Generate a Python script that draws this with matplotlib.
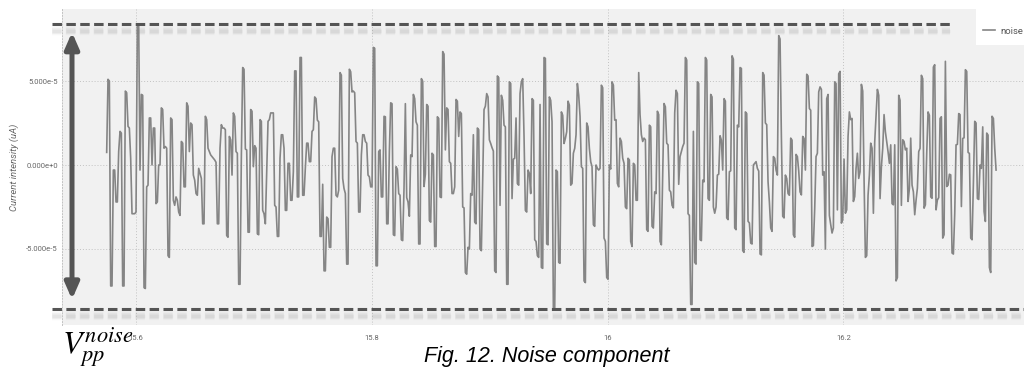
import numpy as np
import matplotlib
matplotlib.use('Agg')
import matplotlib.pyplot as plt
from matplotlib import transforms
from matplotlib.patches import Rectangle

plt.rcParams['font.family'] = ['Roboto', 'DejaVu Sans']
plt.rcParams['mathtext.fontset'] = 'stix'

# noise samples, unit 1e-5 uA, evenly spaced in time
NOISE = [
    0.75, 5.1, 5.0, -7.2, -7.2, -0.3, -0.3, -2.2, -2.2, 0.8,
    2.0, 1.9, -7.2, -7.2, 4.4, 4.3, 2.3, 2.2, 0.4, -2.9,
    -2.9, -2.9, -2.8, 8.4, 8.4, -0.3, 4.2, 4.15, -7.3, -7.35,
    -1.3, -1.2, 2.8, 2.8, 0.0, 2.2, 2.2, -2.3, -2.2, 0.0,
    0.0, 3.4, 3.3, 1.0, 1.1, 1.0, -5.4, -5.5, 2.8, 2.7,
    -2.1, -2.4, -1.9, -2.1, -2.8, -3.0, 1.4, 1.3, -1.3, -1.3,
    3.7, 3.5, 0.8, 2.5, 2.4, -0.6, -0.9, -1.7, -1.8, -0.2,
    -0.5, -0.8, -3.5, -3.5, 2.9, 2.7, 1.0, 0.8, 0.6, 0.5,
    0.4, 0.3, 0.16, -3.5, -3.5, 1.0, 2.4, 2.2, 2.2, 2.1,
    -4.2, -4.3, 1.7, 1.5, -0.6, 3.1, 2.9, 0.8, 0.7, -7.1,
    -7.1, 0.5, 5.8, 5.7, 0.95, 0.9, -4.0, -4.0, 3.3, 3.2,
    -0.1, 1.15, 1.0, -4.1, -4.15, 2.7, 2.6, -2.7, -2.9, -3.5,
    -0.4, 2.6, 2.7, 3.1, 3.1, 3.1, -2.4, -2.5, -4.25, -4.25,
    # 15.8 region
    0.4, 1.8, 1.8, 1.0, -2.7, -2.7, 0.1, 0.1, -2.1, -2.1,
    -0.4, 5.6, 5.6, -1.9, -1.9, 6.4, 6.4, -1.8, -1.8, -0.16,
    1.3, 1.3, 0.2, 0.2, 2.0, 2.1, 4.05, 3.95, 2.67, 2.57,
    -4.25, -4.25, -1.15, -6.3, -6.3, -3.1, -3.2, -4.9, -4.9, 0.5,
    1.0, 1.0, -1.8, -1.9, -1.5, 5.5, 5.35, -0.8, -1.4, -1.7,
    -5.9, -5.9, 5.7, 5.55, 4.35, 4.4, 4.3, 1.4, 1.3, -2.8,
    -2.8, 0.6, 1.8, 1.8, 1.4, 1.3, -0.6, -0.7, -1.3, -1.3,
    7.0, 6.95, -6.0, -6.0, 0.8, 0.9, -1.9, -1.9, 2.9, 2.87,
    -3.5, -3.5, 0.8, 3.7, 3.65, -4.15, -4.2, -0.1, -0.25, -1.7,
    -1.8, -4.45, -4.5, -1.35, 3.65, -1.94, -2.2, -3.05, 0.6, 0.5,
    4.2, 3.95, 2.57, 2.37, -4.7, -4.7, 5.14, 4.98, -1.28, -0.55,
    3.6, 3.5, -3.3, -3.4, 0.7, 0.6, -4.85, -4.85, 2.87, 2.77,
    -1.9, -1.94, 6.75, 6.6, 0.9, 3.4, 3.3, 0.2, 0.1, -1.7,
    -1.7, -1.3, 3.9, 3.8, 1.7,
    # 16.0 region
    3.16, 3.06, -2.5, -2.55, -6.4, -6.5, -4.9, -5.0, -1.7, -1.8,
    1.8, -3.4, -3.5, 2.2, 2.1, -5.0, -5.1, -0.9, 3.3, 3.5,
    4.25, 4.05, 1.5, 1.28, 1.03, 0.83, -6.3, -6.4, 5.3, 5.2,
    -2.4, 4.15, 3.85, 2.37, 2.27, -7.1, -7.1, 4.95, 4.85, -2.0,
    0.35, 0.4, 2.8, -1.1, -1.2, 4.25, 4.95, 5.14, 1.7, -2.7,
    -2.8, -0.3, -0.5, -1.7, 3.95, 3.85, -4.45, -4.55, -5.4, -5.5,
    3.6, -6.1, -6.15, 6.4, 6.35, -4.7, -4.75, 4.05, 3.85, 2.57,
    -8.6, -8.6, -0.3, -0.4, -5.8, -5.85, 3.16, 2.96, 1.28, 1.58,
    1.98, 3.8, 3.56, -1.2, -1.1, 0.7, 0.99, 1.8, 4.85, 4.15,
    2.9, -0.1, -0.2, -6.9, -7.0, 2.5, 2.27, 0.99, 0.2, -0.1,
    -3.55, -3.65, 0.0, -0.2, -0.3, -0.2, 4.75, 4.6, -4.35, -4.55,
    -6.7, -6.8, 0.0, -0.24, 4.95, 4.75, 2.67, 2.7, -1.1, -1.3,
    1.6, 1.4, 0.4, 0.1, -2.5, -2.6, 0.4, 0.3, -4.55, -4.85,
    0.1, 0.0, -2.1, -2.1, 5.5,
    # 16.1 region
    3.0, 1.8, 1.4, 1.6, 1.5, -3.85, -3.95, 2.37, 2.27, -3.65,
    -3.75, -1.6, -1.7, 3.2, 3.0, -4.55, -4.75, -0.5, 3.66, 3.46,
    1.3, 1.2, -1.5, -1.6, -2.4, -2.55, 3.1, 4.45, 4.25, -1.15,
    0.5, 0.79, 1.1, 1.3, 6.4, 6.25, -2.9, -3.0, -8.3, -8.3,
    2.0, -5.8, -5.9, 4.95, 4.85, -4.45, -4.5, -0.9, -1.0, 6.4,
    6.25, -2.0, -2.1, 4.2, 4.05, -2.5, -2.87, -2.5, -0.6, -0.55,
    1.74, 1.48, -0.3, 3.95, 3.8, -3.15, -3.25, -0.4, -0.35, 6.5,
    6.3, -3.75, -3.85, 2.37, 2.27, 5.8, 5.75, -5.1, -5.2, 3.16,
    3.06, -3.35, -3.45, -4.65, -4.7, 0.0, 0.1, 0.2, -0.2, -0.36,
    -5.3, -5.35, 5.5, 5.35, 2.5, 2.4, -1.0, -2.2, -3.75, -3.95,
    0.5, 0.4, -0.3, -0.6, 7.7, 7.5, 1.7, -3.05, -3.15, -0.6,
    -0.8, -1.7, -1.8, 1.6, 1.48, -4.15, -4.3, 0.63, 0.5, -0.35,
    -1.6, -1.78, 1.7, 1.58, -0.3, 5.4, 5.3, 3.36, 3.26, -4.85,
    -4.8, -2.57, 0.5, 0.7, 4.35,
    # 16.2 region
    4.65, 4.5, -0.6, -0.4, -5.0, 3.95, 4.2, -3.0, -3.55, -4.05,
    -3.75, 4.95, 4.85, -2.67, 5.43, 5.57, -3.46, -3.26, 0.35, -2.87,
    -2.67, 1.7, 3.16, 2.7, 2.77, -2.17, -1.88, -0.2, 0.7, -0.8,
    -0.4, 4.8, 4.4, -0.8, -5.5, -5.4, -1.8, -0.6, 1.3, 1.0,
    -2.87, 1.38, 2.96, 4.5, 4.15, -2.0, -0.1, 0.99, 3.0, 1.98,
    1.38, 0.79, 0.1, 1.2, -2.3, -2.37, 1.2, -6.9, -6.7, 4.15,
    3.85, -2.4, 1.5, 1.4, 0.9, 1.0, -2.17, -1.4, 1.6, -1.2,
    -1.6, -2.96, -2.1, -1.38, 0.8, 0.99, 5.34, 5.14, -2.57, -2.37,
    0.7, 3.16, 2.96, -1.9, -1.98, 5.83, 5.97, -2.67, -2.08, -1.94,
    2.77, 2.87, -4.35, -4.15, 6.17, -1.28, -1.2, -0.55, -0.59, -5.24,
    -5.3, -2.9, 1.2, 1.23, 3.06, 3.0, -2.47, 1.58, 1.62, 5.67,
    5.57, 0.75, 0.69, -4.35, -4.45, -1.1, 2.6, 2.5, -2.0, -2.05,
    0.0, -0.2, 2.27, -2.77, -3.36, 1.9, 1.78, -6.1, -6.4, 2.9,
    2.77, 1.0, -0.3,
]
NOISE_UNIT = 1e-5
T_START = 15.5751
T_END = 16.3295

X_TICKS = [15.6, 15.8, 16.0, 16.2]
X_TICK_LABELS = ['15.6', '15.8', '16', '16.2']
Y_TICKS = [5e-5, 0.0, -5e-5]
Y_TICK_LABELS = ['5.000e-5', '0.000e+0', '-5.000e-5']

BG = '#f1f1f1'
LINE = '#858585'
DARK = '#555555'
GRID = '#c2c2c2'

W, H = 1024, 367
fig = plt.figure(figsize=(W / 100, H / 100), dpi=100)
ax = fig.add_axes([62 / W, (H - 325) / H, (W - 62) / W, (325 - 9) / H])
ax.set_facecolor(BG)

t = np.linspace(T_START, T_END, len(NOISE))
y = np.array(NOISE) * NOISE_UNIT
ax.plot(t, y, color=LINE, lw=1.2, label='noise', zorder=3)

# peak-to-peak markers, with a soft shadow under the dashes
top, bot = y.max(), y.min()
trans = ax.get_yaxis_transform()
shadow = transforms.offset_copy(trans, fig=fig, x=0, y=-7, units='dots')
for yy, x_end in [(top, 0.923), (bot, 1.0)]:
    for lw, alpha in [(6, 0.05), (4, 0.07), (2.5, 0.08)]:
        ax.plot([-0.0104, x_end], [yy, yy], transform=shadow, color='#777777', lw=lw,
                alpha=alpha, ls=(0, (6.84 / lw, 3.17 / lw)), clip_on=False, zorder=4)
    ax.plot([-0.0104, x_end], [yy, yy], transform=trans, color=DARK, lw=2.2,
            ls=(0, (3.1, 1.44)), clip_on=False, zorder=5)

ax.annotate('', xy=(0.0104, top - 0.5e-5), xytext=(0.0104, bot + 0.6e-5),
            xycoords=('axes fraction', 'data'), textcoords=('axes fraction', 'data'),
            arrowprops=dict(arrowstyle='<|-|>,head_length=0.8,head_width=0.35',
                            lw=3.6, color=DARK, mutation_scale=12,
                            shrinkA=0, shrinkB=0),
            zorder=6)

ax.set_xlim(15.5372, 16.3532)
ax.set_ylim(-9.524e-5, 9.286e-5)

ax.set_xticks(X_TICKS)
ax.set_xticklabels(X_TICK_LABELS)
ax.set_yticks(Y_TICKS)
ax.set_yticklabels(Y_TICK_LABELS)
ax.tick_params(axis='both', length=0, labelsize=5.5, labelcolor='#666666')
ax.tick_params(axis='x', pad=7)
ax.tick_params(axis='y', pad=3)
ax.grid(True, ls=(0, (1, 2)), color=GRID, lw=0.7, zorder=1)
ax.set_axisbelow(True)
for side in ['top', 'right', 'bottom']:
    ax.spines[side].set_visible(False)
ax.spines['left'].set_linestyle((0, (1, 2)))
ax.spines['left'].set_color(GRID)
ax.spines['left'].set_linewidth(0.7)

# legend box in the top right corner
ax.add_patch(Rectangle(((976 - 62) / 962, 1 - 36 / 316), 0.1, 0.2, transform=ax.transAxes,
                       facecolor='white', edgecolor='none', clip_on=False, zorder=7))
leg = ax.legend(loc='center left', bbox_to_anchor=((983 - 62) / 962, 1 - 22 / 316),
                frameon=False, fontsize=6.8, handlelength=1.3, handletextpad=0.55,
                borderpad=0, borderaxespad=0)
leg.set_zorder(8)
for txt in leg.get_texts():
    txt.set_color(DARK)

fig.text(14 / W, 1 - 167 / H, 'Current intensity (uA)', rotation=90, style='italic',
         fontsize=6.8, color='#666666', ha='center', va='center')
fig.text(547 / W, (H - 362) / H, 'Fig. 12. Noise component',
         family=['Liberation Sans', 'DejaVu Sans'], style='italic', fontsize=15.5,
         ha='center', va='baseline')
fig.text(62 / W, (H - 353) / H, r'$V_{pp}^{noise}$', fontsize=23, ha='left', va='baseline')

fig.savefig('out.png', dpi=100)
